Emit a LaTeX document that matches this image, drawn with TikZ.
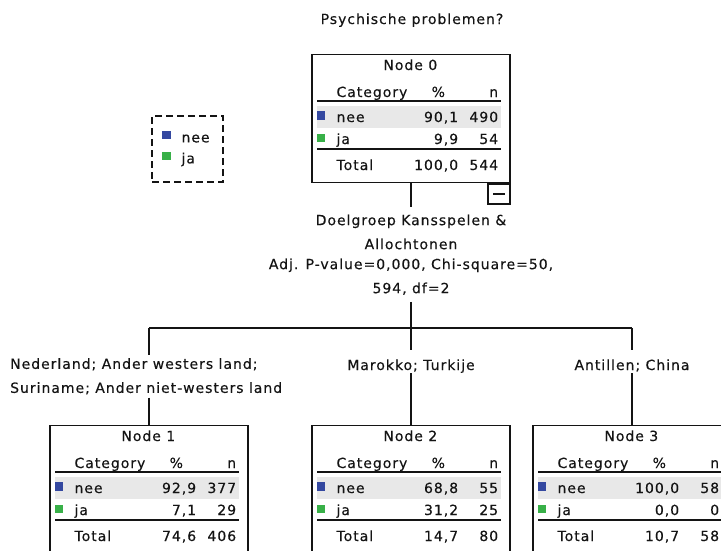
\documentclass[tikz,border=0pt]{standalone}
\usepackage{fontspec}
\usepackage{tikz}
\usetikzlibrary{calc,positioning}
\newfontfamily\spssfont[LetterSpace=7,FakeBold=0.3]{DejaVu Sans}
\definecolor{spssblue}{RGB}{52,72,160}
\definecolor{spssgreen}{RGB}{56,176,72}
\definecolor{spssrow}{RGB}{232,232,232}
\definecolor{spssink}{RGB}{20,20,20}

% one tree node: number, position, nee %, nee n, ja %, ja n, total %, total n
\newcommand{\treenode}[8]{%
  \node[nodebox] (n#1) at (#2) {};
  \begin{scope}[shift={(n#1.north west)}]
    \fill[spssrow] (6,52) rectangle (190,74);
    \fill[spssblue] (6,57) rectangle (14,66);
    \fill[spssgreen] (6,80) rectangle (14,88);
    \draw[rule] (6,47) -- (190,47);
    \draw[rule] (6,95) -- (190,95);
    \node[cell, anchor=base] (n#1-title) at (99,16) {Node #1};
    \node[cell, anchor=base west] (n#1-cat) at (25,43) {Category};
    \node[cell, anchor=base] (n#1-pct) at (127,43) {\%};
    \node[cell, anchor=base east] (n#1-n) at (187,43) {n};
    \node[cell, anchor=base west] (n#1-nee) at (25,68) {nee};
    \node[cell, anchor=base east] (n#1-neep) at (147,68) {#3};
    \node[cell, anchor=base east] (n#1-neen) at (187,68) {#4};
    \node[cell, anchor=base west] (n#1-ja) at (25,90) {ja};
    \node[cell, anchor=base east] (n#1-jap) at (147,90) {#5};
    \node[cell, anchor=base east] (n#1-jan) at (187,90) {#6};
    \node[cell, anchor=base west] (n#1-tot) at (25,116) {Total};
    \node[cell, anchor=base east] (n#1-totp) at (147,116) {#7};
    \node[cell, anchor=base east] (n#1-totn) at (187,116) {#8};
  \end{scope}}

\begin{document}
\begin{tikzpicture}[
    x=1pt, y=-1pt,
    cell/.style={inner sep=0pt, text=spssink, font=\spssfont\fontsize{14pt}{24pt}\selectfont},
    nodebox/.style={draw=spssink, line width=1.3pt, minimum width=198pt, minimum height=128pt, inner sep=0pt, anchor=north},
    rule/.style={spssink, line width=1.2pt},
    edge/.style={spssink, line width=1.3pt},
    branch/.style={cell, text height=20pt, text depth=3pt, inner ysep=0pt, anchor=base}
  ]
  \useasboundingbox (0,0) rectangle (721,550);
  \clip (0,0) rectangle (721,550);
  \fill[white] (0,0) rectangle (721,550);

  \node[cell, anchor=base] (title) at (412,24) {Psychische problemen?};

  % legend
  \node[draw=spssink, dashed, dash pattern=on 7pt off 4pt, line width=1.3pt,
        minimum width=71pt, minimum height=66pt, inner sep=0pt] (legend) at (187.5,149) {};
  \begin{scope}[shift={(legend.north west)}]
    \fill[spssblue] (11,16) rectangle (20,24);
    \fill[spssgreen] (11,37) rectangle (20,45);
    \node[cell, anchor=base west] (legend-nee) at (30,27) {nee};
    \node[cell, anchor=base west] (legend-ja) at (30,48) {ja};
  \end{scope}

  % nodes
  \treenode{0}{411,54}{90,1}{490}{9,9}{54}{100,0}{544}
  \treenode{1}{149,425}{92,9}{377}{7,1}{29}{74,6}{406}
  \treenode{2}{411,425}{68,8}{55}{31,2}{25}{14,7}{80}
  \treenode{3}{632,425}{100,0}{58}{0,0}{0}{10,7}{58}

  \node[draw=spssink, line width=1.3pt, minimum width=22pt, minimum height=20pt,
        inner sep=0pt, anchor=north east] (n0-fold) at (n0.south east) {};
  \draw[edge] ($(n0-fold.center)+(-6,0)$) -- ($(n0-fold.center)+(6,0)$);

  % split
  \node[cell, align=center, inner ysep=7pt, below=24pt of n0] (split0)
    {Doelgroep Kansspelen \&\\Allochtonen\\[-4pt]Adj. P-value=0,000, Chi-square=50,\\594, df=2};

  \coordinate (j0) at (411,328);
  \coordinate (j1) at (149,328);
  \coordinate (j3) at (632,328);

  \node[cell, align=left, inner xsep=0pt, inner ysep=3pt, anchor=north west] (lab1) at (10,355)
    {Nederland; Ander westers land;\\Suriname; Ander niet-westers land};
  \node[branch] (lab2) at (411,370) {Marokko; Turkije};
  \node[branch] (lab3) at (632,370) {Antillen; China};

  \draw[edge] (n0.south) -- (split0.north);
  \draw[edge] (split0.south) -- (j0);
  \draw[edge] (j1) -- (j3);
  \draw[edge] (j1) -- (j1 |- lab1.north);
  \draw[edge] (j1 |- lab1.south) -- (n1.north);
  \draw[edge] (j0) -- (lab2.north);
  \draw[edge] (lab2.south) -- (n2.north);
  \draw[edge] (j3) -- (lab3.north);
  \draw[edge] (lab3.south) -- (n3.north);
\end{tikzpicture}
\end{document}
